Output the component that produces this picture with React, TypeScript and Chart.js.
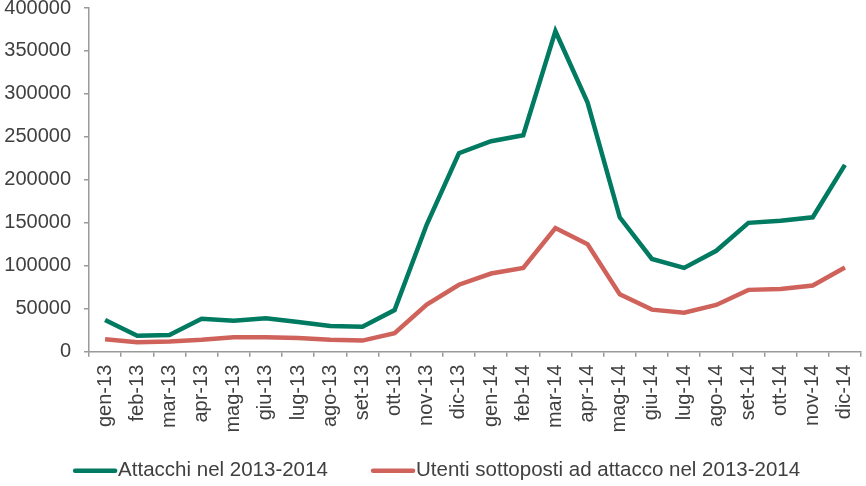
import React, { useEffect, useRef } from "react";
import { Chart, registerables } from "chart.js";

Chart.register(...registerables);

const months = [
  "gen-13", "feb-13", "mar-13", "apr-13", "mag-13", "giu-13", "lug-13", "ago-13", "set-13", "ott-13", "nov-13", "dic-13",
  "gen-14", "feb-14", "mar-14", "apr-14", "mag-14", "giu-14", "lug-14", "ago-14", "set-14", "ott-14", "nov-14", "dic-14",
];

const attacchi = [
  37000, 18500, 19500, 38500, 36000, 39000, 34500, 30000, 29000, 48500, 148000, 231000,
  245000, 252000, 373000, 290000, 156500, 108000, 97500, 117500, 150000, 152500, 156500, 217500,
];

const utenti = [
  14500, 11000, 12000, 14000, 17000, 17000, 16000, 14000, 13000, 21500, 55000, 78000,
  91000, 97500, 144000, 125000, 67000, 49000, 45500, 54500, 72000, 73000, 77000, 98000,
];

const GREEN = "#007a60";
const RED = "#cf625b";
const TEXT = "#404040";
const AXIS = "#9a9a9a";
const FONT = "'Liberation Sans', Arial, sans-serif";

// draws the legend markers as short thick lines just left of the text
const legendLines = {
  id: "legendLines",
  afterDraw(chart: any) {
    const legend = chart.legend;
    if (!legend || !legend.legendHitBoxes) return;
    const ctx = chart.ctx;
    const bw = legend.options.labels.boxWidth;
    const half = legend.options.labels.font.size / 2;
    legend.legendHitBoxes.forEach((box: any, i: number) => {
      const color = chart.data.datasets[i].borderColor;
      const textX = box.left + bw + half;
      const y = box.top + box.height / 2;
      ctx.save();
      ctx.strokeStyle = color;
      ctx.lineWidth = 4.5;
      ctx.lineCap = "round";
      ctx.beginPath();
      ctx.moveTo(textX - 43, y);
      ctx.lineTo(textX - 3, y);
      ctx.stroke();
      ctx.restore();
    });
  },
};

const App: React.FC = () => {
  const canvasRef = useRef<HTMLCanvasElement | null>(null);
  const chartRef = useRef<Chart | null>(null);

  useEffect(() => {
    if (!canvasRef.current) return;
    const ctx = canvasRef.current.getContext("2d");
    if (!ctx) return;
    if (chartRef.current) chartRef.current.destroy();

    chartRef.current = new Chart(ctx, {
      type: "line",
      data: {
        labels: months,
        datasets: [
          {
            label: "Attacchi nel 2013-2014",
            data: attacchi,
            borderColor: GREEN,
            backgroundColor: GREEN,
            borderWidth: 4.5,
            pointRadius: 0,
            tension: 0,
          },
          {
            label: "Utenti sottoposti ad attacco nel 2013-2014",
            data: utenti,
            borderColor: RED,
            backgroundColor: RED,
            borderWidth: 4.5,
            pointRadius: 0,
            tension: 0,
          },
        ],
      },
      options: {
        animation: false,
        responsive: true,
        maintainAspectRatio: false,
        layout: { padding: { top: 8, left: -21, right: 5, bottom: -5 } },
        plugins: {
          tooltip: { enabled: false },
          legend: {
            position: "bottom",
            labels: {
              boxWidth: 68,
              boxHeight: 4,
              padding: 10,
              color: TEXT,
              font: { family: FONT, size: 20.5 },
              generateLabels: (chart: any) =>
                Chart.defaults.plugins.legend.labels
                  .generateLabels(chart)
                  .map((item: any) => ({
                    ...item,
                    fillStyle: "rgba(0,0,0,0)",
                    strokeStyle: "rgba(0,0,0,0)",
                    lineWidth: 0,
                  })),
            },
          },
        },
        scales: {
          x: {
            offset: true,
            afterFit: (scale: any) => {
              scale.height = 98.75;
              scale.paddingLeft = 0;
              scale.paddingRight = 0;
            },
            border: { color: AXIS, width: 1.5 },
            grid: { offset: true, drawOnChartArea: false, tickLength: 5, color: AXIS, lineWidth: 1.5 },
            ticks: {
              minRotation: 90,
              maxRotation: 90,
              autoSkip: false,
              padding: 8,
              color: TEXT,
              font: { family: FONT, size: 20 },
            },
          },
          y: {
            min: 0,
            max: 400000,
            afterFit: (scale: any) => {
              scale.width = 110;
              scale.paddingTop = 0;
              scale.paddingBottom = 0;
            },
            border: { color: AXIS, width: 1.5 },
            grid: { drawOnChartArea: false, tickLength: 5, color: AXIS, lineWidth: 1.5 },
            ticks: {
              stepSize: 50000,
              padding: 13,
              color: TEXT,
              font: { family: FONT, size: 20 },
              callback: (value: any) => String(value),
            },
          },
        },
      },
      plugins: [legendLines],
    });

    return () => {
      if (chartRef.current) {
        chartRef.current.destroy();
        chartRef.current = null;
      }
    };
  }, []);

  return (
    <div style={{ position: "absolute", left: 0, top: 0, width: 866, height: 486, background: "#fff" }}>
      <canvas ref={canvasRef}></canvas>
    </div>
  );
};

export default App;
